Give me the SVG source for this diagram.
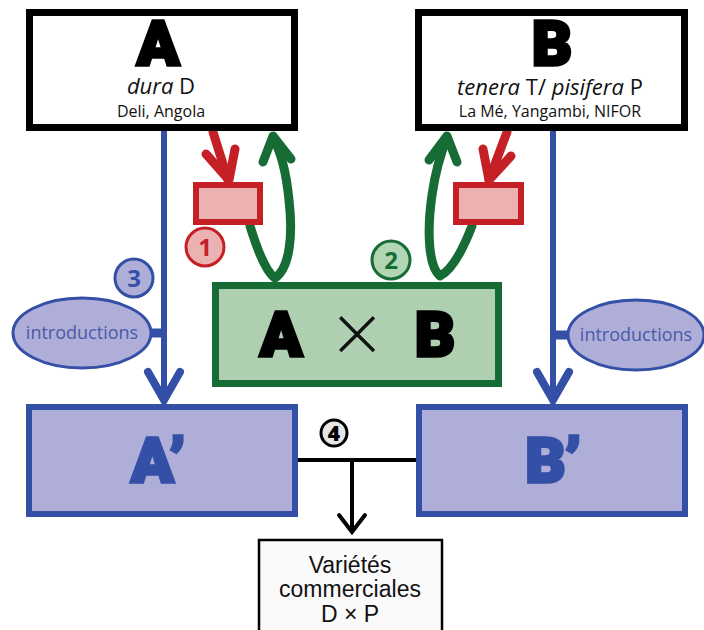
<svg xmlns="http://www.w3.org/2000/svg" width="704" height="630" viewBox="0 0 704 630">
<style>
.big{font-family:"Roboto","DejaVu Sans",sans-serif;font-weight:900;font-size:62px;text-anchor:middle;stroke-width:3.5;stroke-linejoin:miter}
.sub{font-family:"Open Sans","DejaVu Sans",sans-serif;fill:#111;text-anchor:middle}
.intro{font-family:"Open Sans","DejaVu Sans",sans-serif;font-size:18px;fill:#4a5aa8;text-anchor:middle}
.var{font-family:"Liberation Sans",Arial,sans-serif;font-size:23px;fill:#111;text-anchor:middle}
.blue{fill:none;stroke:#3450a6;stroke-width:6}
.red{fill:none;stroke:#c42026;stroke-width:9;stroke-linecap:round;stroke-linejoin:round}
.green{fill:none;stroke:#176b34;stroke-width:9;stroke-linecap:round;stroke-linejoin:round}
.num{font-family:"Open Sans","DejaVu Sans",sans-serif;font-weight:700;font-size:24px;text-anchor:middle}
</style>
<rect width="704" height="630" fill="#fff"/>
<g id="connectors">
  <line class="blue" x1="164" y1="131" x2="164" y2="400"/>
  <polyline points="148,372 164,400 180,372" fill="none" stroke="#3450a6" stroke-width="8" stroke-linecap="round" stroke-linejoin="miter"/>
  <line x1="150" y1="333" x2="164" y2="333" stroke="#3450a6" stroke-width="9"/>
  <line class="blue" x1="553" y1="131" x2="553" y2="400"/>
  <polyline points="537,372 553,400 569,372" fill="none" stroke="#3450a6" stroke-width="8" stroke-linecap="round" stroke-linejoin="miter"/>
  <line x1="553" y1="335" x2="569" y2="335" stroke="#3450a6" stroke-width="9"/>
  <path class="red" d="M213,132 L228,180"/>
  <polyline class="red" points="206,154 229,180 235,149"/>
  <path class="red" d="M507,132 L489,180"/>
  <polyline class="red" points="483,149 489,180 511,156"/>
  <path class="green" d="M250,226 C258,252 266,272 275,278 C290,268 293,235 289,200 C286,170 280,150 273,138"/>
  <polyline class="green" points="263,162 273,136 291,159"/>
  <path class="green" d="M472,226 C462,252 452,270 440,276 C428,266 427,230 432,195 C436,168 442,150 447,138"/>
  <polyline class="green" points="429,160 447,136 457,162"/>
  <line x1="298" y1="460" x2="418" y2="460" stroke="#000" stroke-width="4"/>
  <line x1="352" y1="460" x2="352" y2="531" stroke="#000" stroke-width="4"/>
  <polyline points="339,515 352,532 365,515" fill="none" stroke="#000" stroke-width="4" stroke-linecap="round"/>
</g>
<g id="nodeA">
  <rect x="29.5" y="12.5" width="265" height="115" fill="#fff" stroke="#000" stroke-width="7"/>
  <text class="big" x="158" y="65" fill="#000" stroke="#000">A</text>
  <text class="sub" x="161" y="94" font-size="22"><tspan font-style="italic">dura</tspan> D</text>
  <text class="sub" x="161" y="117" font-size="16">Deli, Angola</text>
</g>
<g id="nodeB">
  <rect x="418.5" y="12.5" width="266" height="115" fill="#fff" stroke="#000" stroke-width="7"/>
  <text class="big" x="552" y="65" fill="#000" stroke="#000">B</text>
  <text class="sub" x="550" y="95" font-size="22"><tspan font-style="italic">tenera</tspan> T/ <tspan font-style="italic">pisifera</tspan> P</text>
  <text class="sub" x="550" y="117" font-size="16">La Mé, Yangambi, NIFOR</text>
</g>
<g id="redboxL">
  <rect x="196" y="185" width="64" height="37" fill="#ecb1b1" stroke="#c42026" stroke-width="6"/>
</g>
<g id="redboxR">
  <rect x="456" y="185" width="65" height="37" fill="#ecb1b1" stroke="#c42026" stroke-width="6"/>
</g>
<g id="circle1">
  <circle cx="205" cy="247" r="19" fill="#ecb1b1" stroke="#c42026" stroke-width="3"/>
  <text class="num" x="205" y="256" fill="#c42026">1</text>
</g>
<g id="circle2">
  <circle cx="391" cy="260" r="19" fill="#b2d6b4" stroke="#176b34" stroke-width="3"/>
  <text class="num" x="391" y="269" fill="#176b34">2</text>
</g>
<g id="circle3">
  <circle cx="134" cy="278" r="19" fill="#aeaed8" stroke="#3450a6" stroke-width="3"/>
  <text class="num" x="134" y="287" fill="#3450a6">3</text>
</g>
<g id="nodeAxB">
  <rect x="215.5" y="285.5" width="283" height="98" fill="#aed0b1" stroke="#176b34" stroke-width="7"/>
  <text class="big" x="281" y="356" fill="#000" stroke="#000">A</text>
  <text x="357" y="356" font-family="'DejaVu Sans',sans-serif" font-weight="200" font-size="70" text-anchor="middle" fill="#111">×</text>
  <text class="big" x="435" y="356" fill="#000" stroke="#000">B</text>
</g>
<g id="introL">
  <ellipse cx="82" cy="333" rx="69" ry="35" fill="#aeaed8" stroke="#3450a6" stroke-width="3"/>
  <text class="intro" x="82" y="339">introductions</text>
</g>
<g id="introR">
  <ellipse cx="636" cy="335" rx="68" ry="35" fill="#aeaed8" stroke="#3450a6" stroke-width="3"/>
  <text class="intro" x="636" y="341">introductions</text>
</g>
<g id="nodeA2">
  <rect x="29" y="407" width="266" height="107" fill="#aeaed8" stroke="#3450a6" stroke-width="6"/>
  <text class="big" x="158" y="482" fill="#3450a6" stroke="#3450a6">A’</text>
</g>
<g id="nodeB2">
  <rect x="419" y="407" width="266" height="107" fill="#aeaed8" stroke="#3450a6" stroke-width="6"/>
  <text class="big" x="553" y="482" fill="#3450a6" stroke="#3450a6">B’</text>
</g>
<g id="circle4">
  <circle cx="334" cy="433" r="13" fill="#e6e6e6" stroke="#000" stroke-width="3"/>
  <text x="334" y="441" font-family="'Open Sans','DejaVu Sans',sans-serif" font-weight="800" font-size="21" text-anchor="middle" fill="#000">4</text>
</g>
<g id="nodeVar">
  <rect x="259" y="540" width="183" height="100" fill="#fafafa" stroke="#000" stroke-width="2.5"/>
  <text class="var" x="350" y="573">Variétés</text>
  <text class="var" x="350" y="597">commerciales</text>
  <text class="var" x="350" y="622">D × P</text>
</g>
</svg>
